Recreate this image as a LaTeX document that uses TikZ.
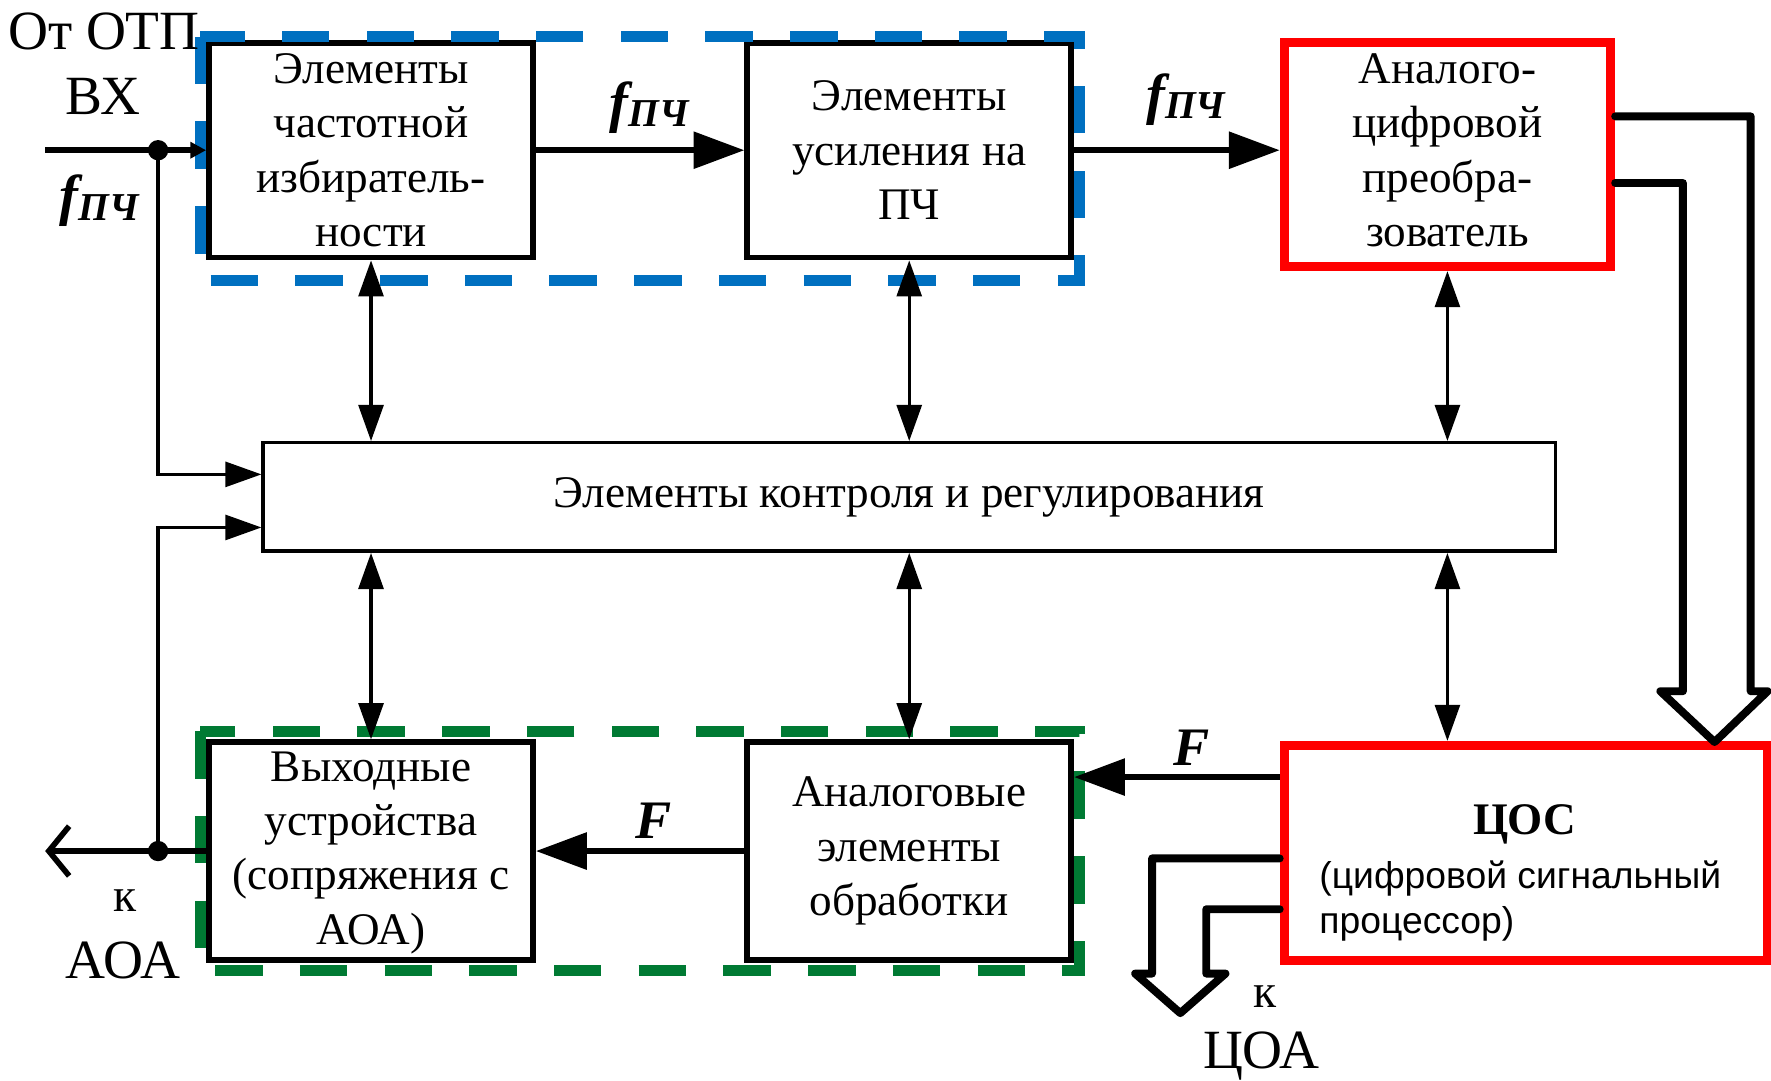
\documentclass[tikz,border=0pt]{standalone}
\usepackage{fontspec}
\setmainfont{Liberation Serif}
\newfontfamily\arialf{Liberation Sans}
\usetikzlibrary{arrows.meta,calc}
\definecolor{dblue}{RGB}{0,112,192}
\definecolor{dgreen}{RGB}{0,122,51}
\definecolor{dred}{RGB}{255,0,0}
\newcommand\fpch{{\fontsize{50}{50}\selectfont\bfseries\itshape f}\raisebox{-5pt}{\fontsize{35}{35}\selectfont\bfseries\itshape ПЧ}}
\newcommand\bigF{{\fontsize{48}{48}\selectfont\bfseries\itshape F}}
\begin{document}
\begin{tikzpicture}[x=1pt,y=-1pt,
  blk/.style={draw,line width=5pt,minimum width=287pt,minimum height=190pt,inner sep=0pt,align=center,font=\fontsize{40}{48}\selectfont},
  redblk/.style={blk,draw=dred,line width=8pt},
  txt/.style={inner sep=0pt,align=center,font=\fontsize{40}{48}\selectfont},
  ctl/.style={draw,line width=3pt,minimum width=1144pt,minimum height=96pt,inner sep=0pt,font=\fontsize{40}{44}\selectfont},
  lbl/.style={inner sep=0pt,font=\fontsize{49}{52}\selectfont},
  thk/.style={line width=5pt},
  thn/.style={line width=3pt},
  bigtip/.tip={Triangle[length=45pt,width=32pt]},
  smtip/.tip={Triangle[length=32pt,width=22pt]},
  hollow/.style={line width=7pt,line join=round,line cap=round}
]
\useasboundingbox (0,0) rectangle (1568,957);

% blocks
\node[blk] (A) at (328.5,133) {Элементы\\частотной\\избиратель-\\ности};
\node[blk] (B) at (805,133) {Элементы\\усиления на\\ПЧ};
\node[redblk,minimum width=289pt,minimum height=198pt] (C) at (1281.5,137) {};
\node[txt] (Ct) at (1281.5,133) {Аналого-\\цифровой\\преобра-\\зователь};
\node[ctl] (K) at (805,440) {Элементы контроля и регулирования};
\node[blk,minimum height=193pt] (D) at (328.5,753.5) {};
\node[txt] (Dt) at (328.5,755) {Выходные\\устройства\\(сопряжения с\\АОА)};
\node[blk,minimum height=193pt] (E) at (805,753.5) {Аналоговые\\элементы\\обработки};
\node[redblk,minimum width=428pt,minimum height=190pt] (F) at (1351,755) {};
\node[inner sep=0pt,font=\fontsize{40}{44}\selectfont\bfseries] (Ft) at (1350,730) {ЦОС};
\node[anchor=west,align=left,inner sep=0pt,font=\arialf\fontsize{33}{40}\selectfont] (Fs) at (1168,798) {(цифровой сигнальный\\процессор)};

% dashed groups
\draw[dblue,line width=10pt,dash pattern=on 42pt off 33pt] ($(A.north west)+(-5,-3)$) rectangle ($(B.south east)+(5,18)$);
\draw[dgreen,line width=10pt,dash pattern=on 42pt off 33pt] ($(D.north west)+(-5,-7)$) rectangle ($(E.south east)+(5,7)$);

% input
\coordinate (in) at (40,133);
\coordinate (j1) at (140,133);
\draw[thk,-{Triangle[length=14pt,width=14pt]}] (in) -- (A.west);
\fill (j1) circle (9pt);
\draw[thn,-smtip] (j1) |- ([yshift=20pt]K.west);

% output to AOA
\coordinate (out) at (40,753.5);
\coordinate (j2) at (140,753.5);
\draw[thk,-{Straight Barb[length=18pt,width=44pt]}] (D.west) -- (out);
\fill (j2) circle (9pt);
\draw[thn,-smtip] (j2) |- ([yshift=-27pt]K.west);

% main chain
\draw[thk,-bigtip] (A.east) -- (B.west);
\draw[thk,-bigtip] (B.east) -- (B.east -| C.west);
\draw[thk,-bigtip] (E.west) -- (D.east);
\draw[thk,-bigtip] ([yshift=67pt]F.west) -- ([yshift=67pt]F.west -| E.east);

% control links
\draw[thn,smtip-smtip] (A.south) -- (A.south |- K.north);
\draw[thn,smtip-smtip] (B.south) -- (B.south |- K.north);
\draw[thn,smtip-smtip] (C.south) -- (C.south |- K.north);
\draw[thn,smtip-smtip] (D.north |- K.south) -- (D.north);
\draw[thn,smtip-smtip] (E.north |- K.south) -- (E.north);
\draw[thn,smtip-smtip] (C.south |- K.south) -- (C.south |- F.north);

% ADC -> DSP hollow arrow
\draw[hollow] ([yshift=-25pt]C.east) -- (1490,162) -- (1490,612) -- (1470,612) -- (1518,657) -- (1565,612) -- (1550,612) -- (1550,103) -- ([yshift=34pt]C.east);

% DSP -> ЦОА hollow arrow
\draw[hollow] ([yshift=-5pt]F.west) -- (1020,760) -- (1020,862) -- (1005,862) -- (1045,897) -- (1085,862) -- (1068,862) -- (1068,805) -- ([yshift=-50pt]F.west);

% labels
\node[lbl] (l1) at (92,28) {От ОТП};
\node[lbl] (l2) at (91,85) {ВХ};
\node[inner sep=0pt] (f1) at (88,178) {\fpch};
\node[inner sep=0pt] (f2) at (575,95) {\fpch};
\node[inner sep=0pt] (f3) at (1050,88) {\fpch};
\node[inner sep=0pt] (F1) at (579,727) {\bigF};
\node[inner sep=0pt] (F2) at (1055,662) {\bigF};
\node[lbl,font=\fontsize{42}{44}\selectfont] (k1) at (111,797) {к};
\node[lbl] (k2) at (109,850) {АОА};
\node[lbl,font=\fontsize{42}{44}\selectfont] (k3) at (1120,882) {к};
\node[lbl] (k4) at (1117,935) {ЦОА};
\end{tikzpicture}
\end{document}
